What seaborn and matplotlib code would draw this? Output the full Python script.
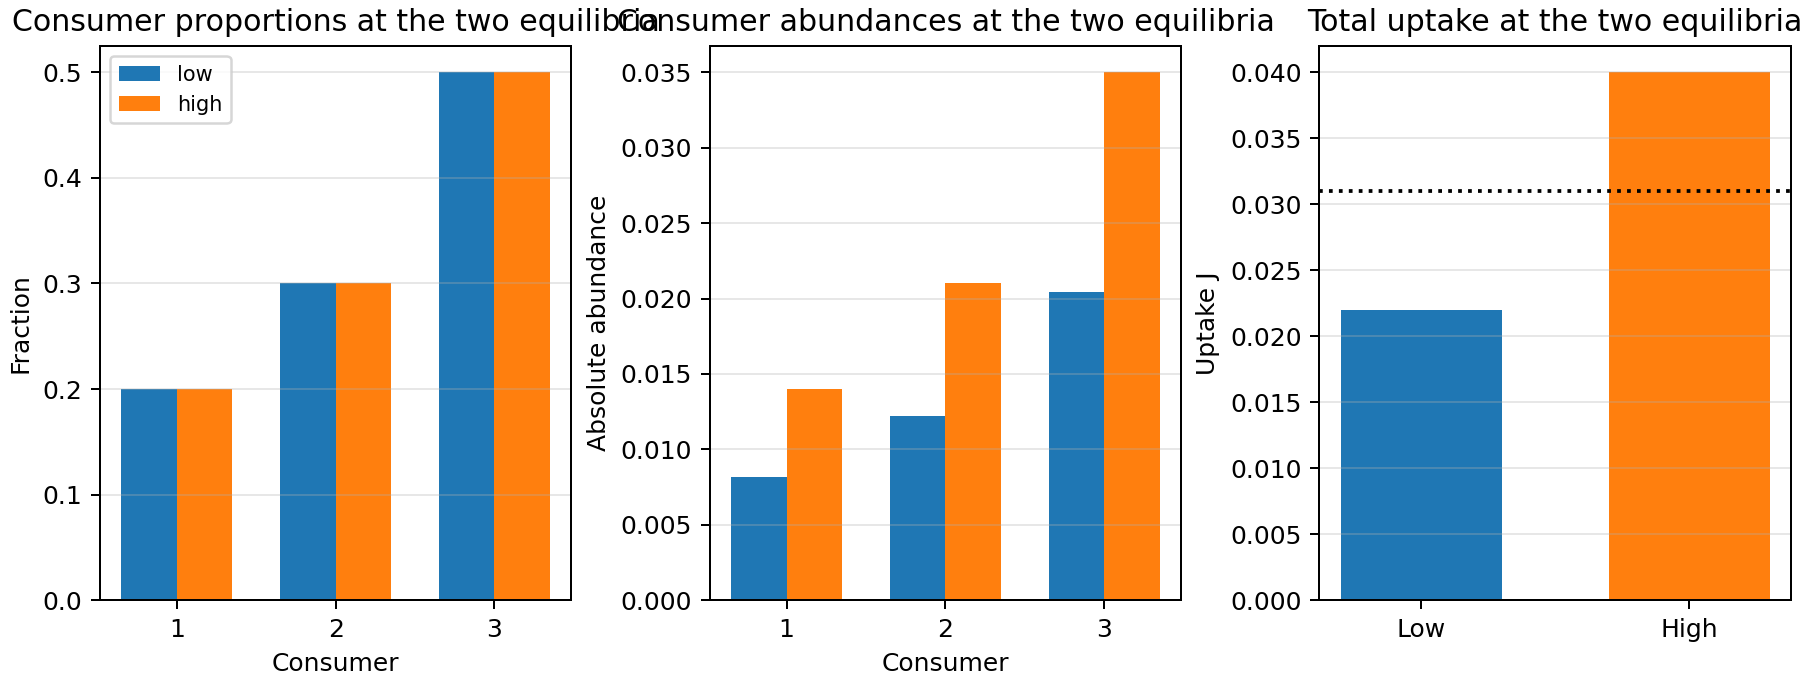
import pandas as pd
import seaborn as sns
import matplotlib.pyplot as plt

consumers = ["1", "2", "3"]
frac_low = [0.2, 0.3, 0.5]
frac_high = [0.2, 0.3, 0.5]
abund_low = [0.00816, 0.01224, 0.0204]
abund_high = [0.014, 0.021, 0.035]
uptake_labels = ["Low", "High"]
uptake_vals = [0.022, 0.040]
uptake_threshold = 0.031

df = pd.DataFrame({
    "consumer": consumers * 2,
    "state": ["low"] * 3 + ["high"] * 3,
    "fraction": frac_low + frac_high,
    "abundance": abund_low + abund_high,
})
up = pd.DataFrame({"label": uptake_labels, "uptake": uptake_vals})

pal = ["#1f77b4", "#ff7f0e"]

fig, axes = plt.subplots(1, 3, figsize=(10, 3.8), dpi=180)
ax1, ax2, ax3 = axes

sns.barplot(data=df, x="consumer", y="fraction", hue="state", palette=pal,
            width=0.7, saturation=1, linewidth=0, ax=ax1)
ax1.legend(loc="upper left", fontsize="small")
ax1.set_title("Consumer proportions at the two equilibria")
ax1.set_xlabel("Consumer")
ax1.set_ylabel("Fraction")
ax1.set_xlim(-0.485, 2.485)
ax1.set_ylim(0, 0.525)

sns.barplot(data=df, x="consumer", y="abundance", hue="state", palette=pal,
            width=0.7, saturation=1, linewidth=0, legend=False, ax=ax2)
ax2.set_title("Consumer abundances at the two equilibria")
ax2.set_xlabel("Consumer")
ax2.set_ylabel("Absolute abundance")
ax2.set_xlim(-0.485, 2.485)
ax2.set_ylim(0, 0.03675)

sns.barplot(data=up, x="label", y="uptake", hue="label", palette=pal,
            width=0.6, saturation=1, linewidth=0, legend=False, ax=ax3)
ax3.axhline(uptake_threshold, color="black", linestyle=":", linewidth=1.5)
ax3.set_title("Total uptake at the two equilibria")
ax3.set_xlabel("")
ax3.set_ylabel("Uptake J")
ax3.set_xlim(-0.38, 1.38)
ax3.set_ylim(0, 0.042)

for ax in axes:
    ax.grid(axis="y", alpha=0.3)

plt.subplots_adjust(left=0.0555, right=0.995, top=0.933, bottom=0.1225, wspace=0.293)
plt.savefig("out.png")
